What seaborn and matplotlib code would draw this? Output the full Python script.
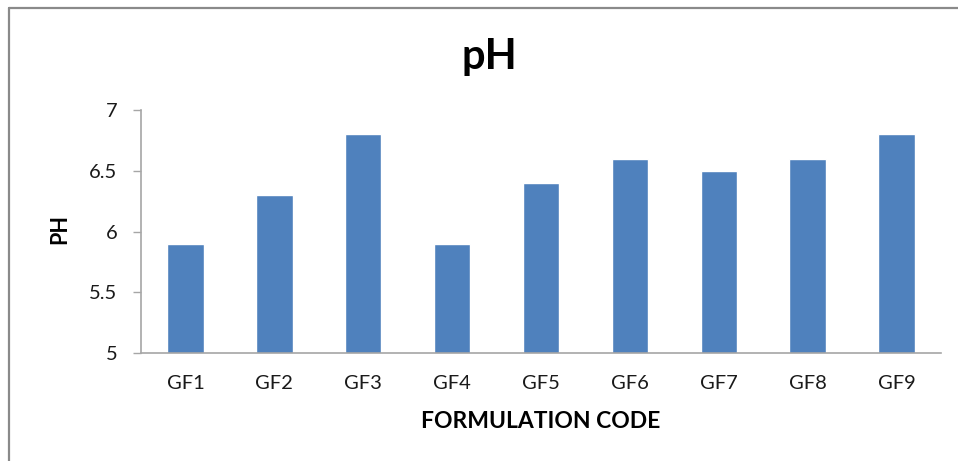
import matplotlib
matplotlib.use("Agg")
import matplotlib.pyplot as plt
from matplotlib.lines import Line2D
import seaborn as sns
import pandas as pd

# Formulation codes and their measured pH
codes = ["GF1", "GF2", "GF3", "GF4", "GF5", "GF6", "GF7", "GF8", "GF9"]
ph_values = [5.9, 6.3, 6.8, 5.9, 6.4, 6.6, 6.5, 6.6, 6.8]
y_ticks = [5, 5.5, 6, 6.5, 7]
y_tick_labels = ["5", "5.5", "6", "6.5", "7"]

sns.set_theme(style="white")
plt.rcParams["font.family"] = ["Lato", "DejaVu Sans"]

df = pd.DataFrame({"code": codes, "ph": ph_values})

fig = plt.figure(figsize=(9.58, 4.61), dpi=100)
ax = fig.add_axes([141 / 958, 1 - 353 / 461, 800 / 958, 243 / 461])

sns.barplot(data=df, x="code", y="ph", color="#4F81BD", saturation=1,
            width=0.41, ax=ax)

ax.set_ylim(5, 7)
ax.set_xlim(-0.5, len(codes) - 0.5)
ax.set_yticks(y_ticks)
ax.set_yticklabels(y_tick_labels)

spine_color = "#a6a6a6"
for side in ("top", "right"):
    ax.spines[side].set_visible(False)
for side in ("left", "bottom"):
    ax.spines[side].set_color(spine_color)
    ax.spines[side].set_linewidth(1.2)

ax.tick_params(axis="y", which="major", left=True, length=6, width=1.0,
               color=spine_color, pad=11, labelsize=14.5, labelcolor="#1a1a1a")
ax.tick_params(axis="x", which="major", bottom=False, length=0, pad=16,
               labelsize=14.5, labelcolor="#1a1a1a")

ax.set_xlabel("FORMULATION CODE", fontsize=16.5, fontweight="bold",
              color="black", labelpad=8)
ax.set_ylabel("PH", fontsize=15.5, fontweight="bold", color="black",
              labelpad=0)
ax.yaxis.set_label_coords(60 / 958, 232 / 461, transform=fig.transFigure)
ax.xaxis.set_label_coords(541 / 958, 1 - 421 / 461, transform=fig.transFigure)
ax.xaxis.label.set_va("center")
ax.yaxis.label.set_va("center")

fig.text(489 / 958, 1 - 57 / 461, "pH", ha="center", va="center",
         fontsize=30, fontweight="bold", color="black")

# Chart-area border along the left and top edges
frame_kw = dict(color="#8a8a8a", linewidth=1.6, transform=fig.transFigure)
fig.add_artist(Line2D([9 / 958, 9 / 958], [0, 1 - 8 / 461], **frame_kw))
fig.add_artist(Line2D([9 / 958, 1], [1 - 8 / 461, 1 - 8 / 461], **frame_kw))

fig.savefig("out.png", dpi=100, facecolor="white")
